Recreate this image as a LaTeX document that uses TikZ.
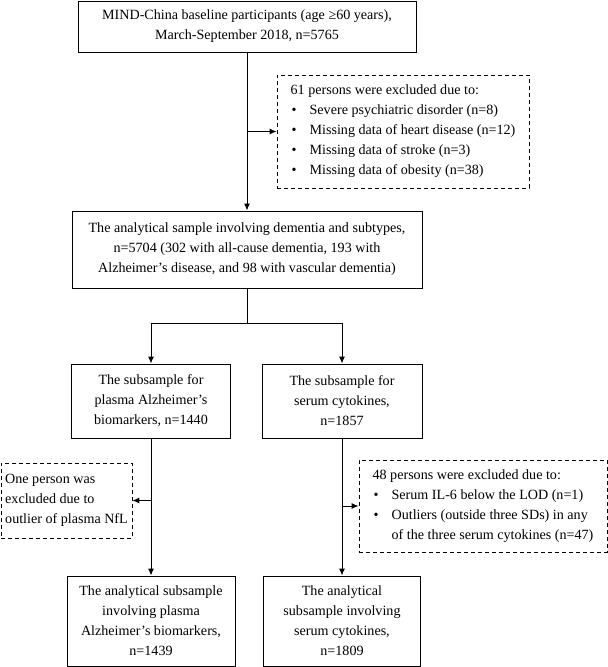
\documentclass[tikz,border=0pt]{standalone}
\usepackage{fontspec}
\setmainfont{Liberation Serif}
\usetikzlibrary{arrows.meta}
\newcommand{\bul}{\makebox[19pt][l]{\hspace{1pt}\textbullet}}

\begin{document}
\begin{tikzpicture}[x=1pt, y=-1pt, font=\fontsize{14.1}{20}\selectfont, >={Latex[length=7pt,width=6pt]}, line width=1pt,
  box/.style={draw, align=center, inner sep=0pt},
  exbox/.style={draw, line width=0.8pt, dash pattern=on 4pt off 3pt, align=left, inner sep=0pt}]
  \useasboundingbox (0,0) rectangle (608,667);

  \node[box, minimum width=338pt, minimum height=51pt] (base) at (247,26.5)
    {MIND-China baseline participants (age ≥60 years),\\ March-September 2018, n=5765};
  \node[exbox, minimum width=252pt, minimum height=113pt] (excl1) at (403,131.5)
    {61 persons were excluded due to:\\ \bul Severe psychiatric disorder (n=8)\\ \bul Missing data of heart disease (n=12)\\
     \bul Missing data of stroke (n=3)\\ \bul Missing data of obesity (n=38)};
  \node[box, minimum width=350pt, minimum height=77pt] (sample) at (247,249.5)
    {The analytical sample involving dementia and subtypes,\\ n=5704 (302 with all-cause dementia, 193 with\\
     Alzheimer’s disease, and 98 with vascular dementia)};
  \node[box, minimum width=159pt, minimum height=74pt] (plasma) at (151,401)
    {The subsample for\\ plasma Alzheimer’s\\ biomarkers, n=1440};
  \node[box, minimum width=160pt, minimum height=74pt] (serum) at (342,401)
    {The subsample for\\ serum cytokines,\\ n=1857};
  \node[exbox, minimum width=131pt, minimum height=75pt] (exclP) at (66.5,500.5)
    {One person was\\ excluded due to\\ outlier of plasma NfL};
  \node[exbox, minimum width=248pt, minimum height=92pt] (exclS) at (483,506)
    {48 persons were excluded due to:\\ \bul Serum IL-6 below the LOD (n=1)\\ \bul Outliers (outside three SDs) in any\\
     \hspace*{19pt}of the three serum cytokines (n=47)};
  \node[box, minimum width=168pt, minimum height=90pt] (plasmaA) at (151,621)
    {The analytical subsample\\ involving plasma\\ Alzheimer’s biomarkers,\\ n=1439};
  \node[box, minimum width=157pt, minimum height=90pt] (serumA) at (342,621)
    {The analytical\\ subsample involving\\ serum cytokines,\\ n=1809};

  \coordinate (j1) at (base.south |- excl1.west);
  \coordinate (split) at (247,323);
  \coordinate (j2) at (plasma.south |- exclP.east);
  \coordinate (j3) at (serum.south |- exclS.west);

  \path[->]
  (base.south) edge (sample.north)
  (j1) edge (excl1.west)
  (plasma.south) edge (plasmaA.north)
  (j2) edge (exclP.east)
  (serum.south) edge (serumA.north)
  (j3) edge (exclS.west);
  \draw (sample.south) -- (split);
  \draw[->] (split) -| (plasma.north);
  \draw[->] (split) -| (serum.north);
\end{tikzpicture}
\end{document}
